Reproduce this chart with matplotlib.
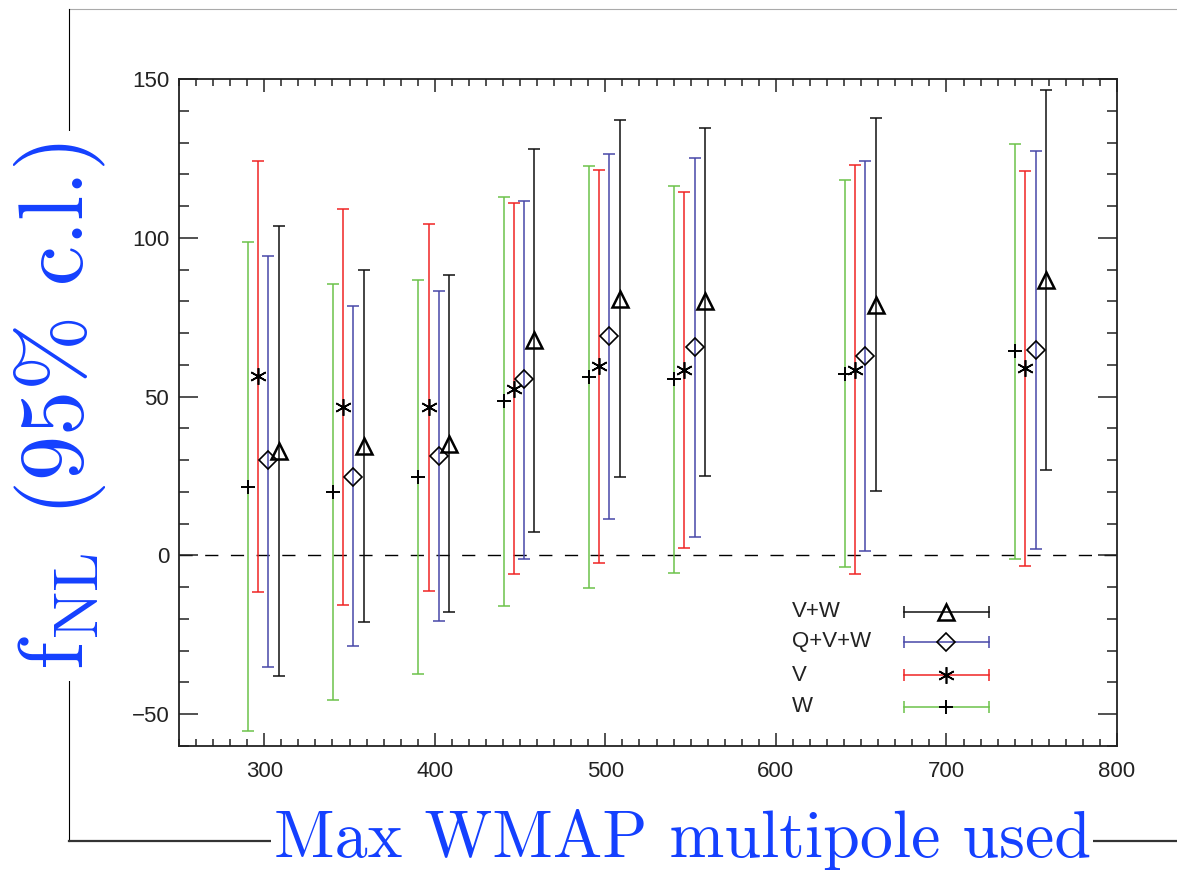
import numpy as np
import matplotlib
matplotlib.use('Agg')
import matplotlib.pyplot as plt
from matplotlib.lines import Line2D
from matplotlib.ticker import MultipleLocator

plt.rcParams['mathtext.fontset'] = 'cm'
plt.rcParams['font.family'] = ['Liberation Sans', 'DejaVu Sans']

# max multipole used
lmax = [300, 350, 400, 450, 500, 550, 650, 750]

# W band: best estimate, 95% lower and upper limits
w_fnl = [21.7, 20.0, 24.8, 48.7, 56.1, 55.5, 57.1, 64.3]
w_lo = [-55.4, -45.5, -37.4, -15.9, -10.4, -5.6, -3.8, -1.0]
w_hi = [98.8, 85.5, 86.6, 113.0, 122.5, 116.2, 118.3, 129.5]

# V band
v_fnl = [56.5, 46.6, 46.6, 52.4, 59.5, 58.5, 58.5, 59.1]
v_lo = [-11.4, -15.5, -11.1, -5.9, -2.5, 2.3, -6.0, -3.2]
v_hi = [124.3, 109.0, 104.4, 110.9, 121.2, 114.5, 122.9, 121.0]

# Q+V+W
qvw_fnl = [29.9, 24.8, 31.2, 55.5, 69.2, 65.5, 62.9, 64.7]
qvw_lo = [-35.0, -28.6, -20.8, -1.0, 11.6, 5.7, 1.5, 2.1]
qvw_hi = [94.4, 78.4, 83.2, 111.6, 126.4, 125.1, 124.3, 127.2]

# V+W
vw_fnl = [33.0, 34.4, 35.0, 67.8, 80.8, 80.1, 78.7, 86.6]
vw_lo = [-38.1, -20.9, -17.8, 7.5, 24.7, 25.1, 20.4, 26.9]
vw_hi = [103.8, 89.9, 88.3, 128.1, 137.0, 134.7, 137.7, 146.5]

legend_names = ['V+W', 'Q+V+W', 'V', 'W']

BLUE_TXT = '#1440ff'
W_PX, H_PX = 1177, 872

# name, data, x shift, bar colour, marker style
series = [
    ('W', w_fnl, w_lo, w_hi, -9.7, '#6cc24a', dict(marker='+', ms=9.5, mew=1.4)),
    ('V', v_fnl, v_lo, v_hi, -3.7, '#f02424', dict(marker=(6, 2, 0), ms=12, mew=1.2)),
    ('Q+V+W', qvw_fnl, qvw_lo, qvw_hi, 2.3, '#4848a8', dict(marker='D', ms=9, mew=1.2)),
    ('V+W', vw_fnl, vw_lo, vw_hi, 8.4, '#111111', dict(marker='^', ms=11, mew=1.8)),
]

fig = plt.figure(figsize=(W_PX / 100, H_PX / 100), dpi=100)
ax = fig.add_axes([179 / W_PX, 1 - 746 / H_PX, (1117 - 179) / W_PX, (746 - 79) / H_PX])

ax.axhline(0, color='k', lw=1.0, ls=(0, (9.5, 9)), zorder=1)

styles = {}
for name, c, lo, hi, shift, col, mk in series:
    x = np.array(lmax) + shift
    c = np.array(c)
    err = [c - np.array(lo), np.array(hi) - c]
    ax.errorbar(x, c, yerr=err, fmt='none', ecolor=col, elinewidth=1.1,
                capsize=4.3, capthick=1.1, zorder=2)
    ax.plot(x, c, ls='none', mfc='none', mec='k', zorder=3, **mk)
    styles[name] = (col, mk)

# legend, drawn by hand (labels left, error bar keys right)
row_y = [0.201, 0.156, 0.106, 0.059]
for name, y in zip(legend_names, row_y):
    col, mk = styles[name]
    ax.plot([0.773, 0.8635], [y, y], transform=ax.transAxes, color=col, lw=1.1,
            marker='|', ms=8, mew=1.1, zorder=3)
    ax.plot([0.818], [y], transform=ax.transAxes, ls='none', mfc='none', mec='k',
            zorder=4, **mk)
    ax.text(0.653, y, name, transform=ax.transAxes, ha='left', va='center',
            fontsize=16, color='#222222')

ax.set_xlim(250, 800)
ax.set_ylim(-60, 150)
ax.xaxis.set_major_locator(MultipleLocator(100))
ax.xaxis.set_minor_locator(MultipleLocator(10))
ax.yaxis.set_major_locator(MultipleLocator(50))
ax.yaxis.set_minor_locator(MultipleLocator(10))

ax.tick_params(which='both', direction='in', top=True, right=True,
               colors='#222222', labelsize=16, width=1.1)
ax.tick_params(axis='x', which='major', length=9.4, pad=11)
ax.tick_params(axis='x', which='minor', length=4.8)
ax.tick_params(axis='y', which='major', length=13.7, pad=7)
ax.tick_params(axis='y', which='minor', length=7)
for s in ax.spines.values():
    s.set_linewidth(1.3)
    s.set_color('#222222')

# slide frame lines
fig.add_artist(Line2D([69 / W_PX, 1], [1 - 9 / H_PX] * 2, transform=fig.transFigure,
                      color='#aaaaaa', lw=0.8, zorder=1))
fig.add_artist(Line2D([69 / W_PX] * 2, [1 - 9 / H_PX, 1 - 841 / H_PX],
                      transform=fig.transFigure, color='k', lw=0.8, zorder=1))
fig.add_artist(Line2D([69 / W_PX, 1], [1 - 841 / H_PX] * 2, transform=fig.transFigure,
                      color='#333333', lw=1.6, zorder=1))

fig.text(60 / W_PX, 1 - 406 / H_PX,
         r'$\mathrm{f}_{\mathrm{NL}}$ (95% c.l.)', family='cmr10',
         rotation=90, fontsize=65, color=BLUE_TXT, ha='center', va='center',
         bbox=dict(fc='white', ec='none', pad=8), zorder=5)
fig.text(682 / W_PX, 1 - 857 / H_PX, 'Max WMAP multipole used', family='cmr10',
         fontsize=47.5, color=BLUE_TXT, ha='center', va='baseline',
         bbox=dict(fc='white', ec='none', pad=2), zorder=5)

fig.savefig('out.png', dpi=100)
